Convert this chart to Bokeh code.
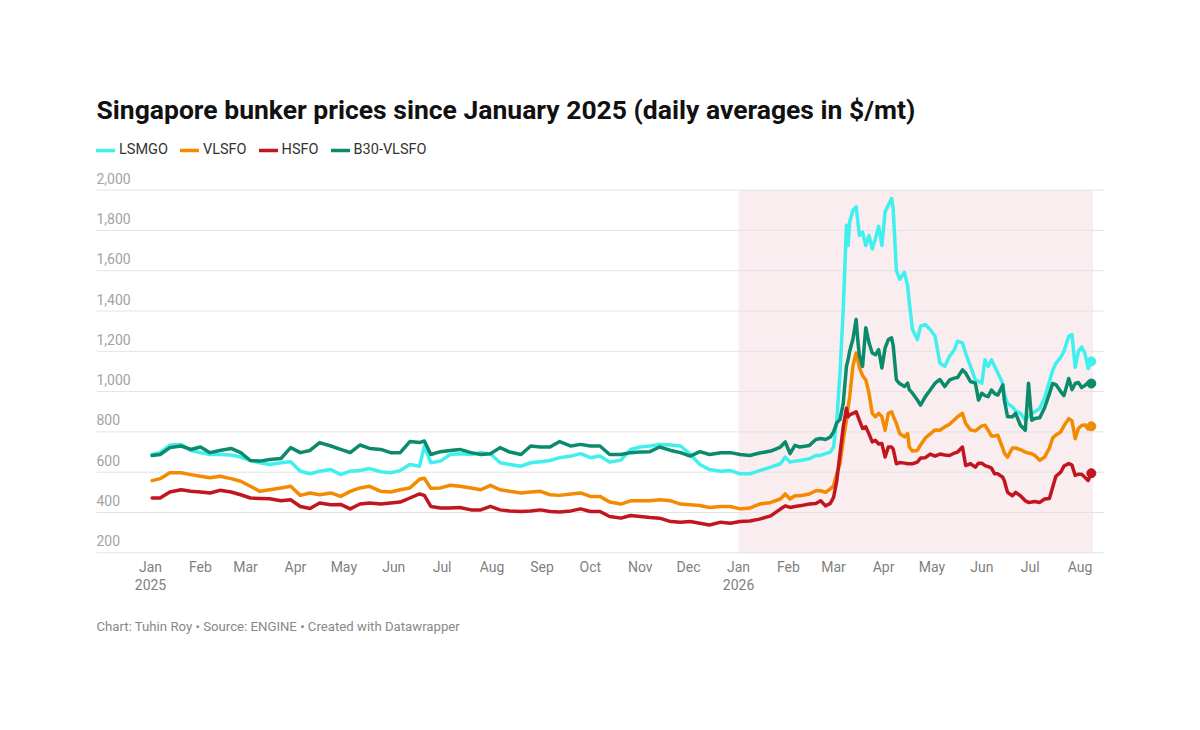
import pandas as pd
from bokeh.plotting import figure
from bokeh.models import Range1d, Label, Legend, LegendItem
from bokeh.core.properties import value
from bokeh.embed import file_html
from bokeh.resources import INLINE

# ---------------- data ----------------
dates = [
    "2025-01-02", "2025-01-07", "2025-01-13", "2025-01-20", "2025-01-26", "2025-02-01", "2025-02-07", "2025-02-13", "2025-02-20", "2025-02-26",
    "2025-03-04", "2025-03-10", "2025-03-16", "2025-03-23", "2025-03-29", "2025-04-04", "2025-04-10", "2025-04-16", "2025-04-23", "2025-04-29",
    "2025-05-05", "2025-05-11", "2025-05-17", "2025-05-24", "2025-05-30", "2025-06-05", "2025-06-11", "2025-06-17", "2025-06-20", "2025-06-24", "2025-06-30",
    "2025-07-06", "2025-07-12", "2025-07-19", "2025-07-25", "2025-07-31", "2025-08-06", "2025-08-12", "2025-08-19", "2025-08-25", "2025-08-31",
    "2025-09-06", "2025-09-12", "2025-09-19", "2025-09-25", "2025-10-01", "2025-10-07", "2025-10-13", "2025-10-20", "2025-10-26",
    "2025-11-01", "2025-11-07", "2025-11-13", "2025-11-20", "2025-11-26", "2025-12-02", "2025-12-08", "2025-12-14", "2025-12-21", "2025-12-27",
    "2026-01-02",
    "2026-01-08", "2026-01-14", "2026-01-21", "2026-01-27", "2026-01-30", "2026-02-02", "2026-02-05", "2026-02-08", "2026-02-14", "2026-02-18",
    "2026-02-21", "2026-02-24", "2026-02-27", "2026-03-01", "2026-03-03", "2026-03-05", "2026-03-07", "2026-03-09", "2026-03-10", "2026-03-11",
    "2026-03-13", "2026-03-15", "2026-03-16", "2026-03-17", "2026-03-19", "2026-03-21", "2026-03-23", "2026-03-25", "2026-03-27", "2026-03-29",
    "2026-03-31", "2026-04-02", "2026-04-04", "2026-04-06", "2026-04-07", "2026-04-09", "2026-04-11", "2026-04-14", "2026-04-16", "2026-04-17",
    "2026-04-19", "2026-04-22", "2026-04-24", "2026-04-27", "2026-04-30", "2026-05-03", "2026-05-06", "2026-05-09", "2026-05-12", "2026-05-15",
    "2026-05-17", "2026-05-20", "2026-05-22", "2026-05-25", "2026-05-28", "2026-05-30", "2026-06-01", "2026-06-03", "2026-06-05", "2026-06-07",
    "2026-06-09", "2026-06-11", "2026-06-14", "2026-06-15", "2026-06-17", "2026-06-20", "2026-06-22", "2026-06-25", "2026-06-28", "2026-06-30",
    "2026-07-02", "2026-07-04", "2026-07-07", "2026-07-10", "2026-07-13", "2026-07-15", "2026-07-17", "2026-07-20", "2026-07-22", "2026-07-25",
    "2026-07-27", "2026-07-29", "2026-07-31", "2026-08-02", "2026-08-04", "2026-08-06", "2026-08-08",
]

lsmgo = [
    688, 697, 735, 738, 708, 697, 688, 688, 685, 675,
    658, 647, 638, 647, 652, 605, 592, 605, 613, 588,
    605, 608, 618, 602, 597, 608, 638, 630, 730, 647, 655,
    688, 692, 688, 697, 692, 647, 638, 630, 647, 652,
    658, 672, 680, 692, 672, 680, 650, 660, 713,
    725, 730, 738, 735, 730, 690, 638, 613, 605, 608,
    592,
    592, 608, 625, 642, 675, 650, 655, 658, 667, 683,
    683, 692, 700, 725, 858, 1092, 1408, 1825, 1725, 1842,
    1900, 1917, 1850, 1775, 1792, 1725, 1775, 1708, 1760, 1820,
    1725, 1892, 1925, 1958, 1908, 1600, 1558, 1592, 1525, 1442,
    1308, 1258, 1325, 1333, 1308, 1275, 1142, 1125, 1175, 1208,
    1250, 1242, 1190, 1125, 1058, 1050, 1042, 1158, 1125, 1158,
    1125, 1092, 1040, 990, 940, 925, 905, 892, 858, 880,
    892, 900, 917, 970, 1050, 1105, 1140, 1170, 1200, 1275,
    1283, 1121, 1200, 1221, 1190, 1115, 1150,
]

vlsfo = [
    558, 568, 597, 597, 588, 580, 572, 580, 568, 555,
    530, 505, 513, 522, 530, 485, 497, 488, 497, 480,
    505, 522, 530, 505, 502, 513, 522, 565, 570, 520, 522,
    535, 530, 522, 513, 535, 513, 505, 497, 502, 505,
    488, 485, 492, 497, 480, 480, 452, 442, 458,
    458, 458, 463, 458, 442, 438, 435, 425, 430, 430,
    418,
    422, 442, 450, 467, 492, 467, 483, 483, 492, 508,
    508, 500, 517, 533, 592, 642, 758, 858, 920, 975,
    1125, 1192, 1158, 1120, 1080, 1058, 992, 892, 875, 892,
    875, 808, 892, 900, 880, 842, 792, 775, 792, 725,
    705, 708, 735, 770, 790, 810, 808, 825, 838, 860,
    875, 892, 842, 810, 805, 817, 830, 833, 808, 780,
    780, 783, 720, 695, 675, 720, 720, 712, 700, 695,
    692, 683, 659, 675, 720, 770, 785, 800, 830, 866,
    855, 766, 817, 832, 835, 815, 828,
]

hsfo = [
    472, 472, 502, 513, 505, 502, 497, 510, 502, 488,
    472, 470, 468, 458, 463, 430, 420, 447, 438, 440,
    418, 442, 447, 442, 447, 452, 472, 492, 485, 430, 422,
    422, 425, 413, 413, 430, 413, 408, 405, 408, 413,
    405, 402, 408, 418, 405, 405, 380, 372, 385,
    380, 375, 372, 355, 352, 355, 347, 338, 352, 347,
    355,
    358, 367, 383, 417, 433, 425, 430, 433, 442, 445,
    458, 433, 445, 475, 558, 692, 825, 917, 875, 885,
    892, 900, 880, 858, 817, 825, 790, 750, 758, 740,
    742, 675, 725, 725, 715, 642, 648, 645, 642, 642,
    642, 650, 670, 672, 690, 680, 690, 685, 683, 695,
    700, 725, 633, 642, 625, 645, 645, 633, 628, 620,
    592, 592, 575, 558, 500, 483, 500, 483, 458, 450,
    452, 455, 450, 467, 470, 525, 580, 600, 630, 643,
    635, 584, 590, 590, 575, 559, 595,
]

b30_vlsfo = [
    683, 688, 722, 730, 713, 725, 697, 708, 718, 697,
    658, 655, 663, 668, 722, 697, 708, 747, 730, 713,
    697, 735, 718, 713, 697, 697, 752, 747, 755, 688, 702,
    708, 713, 697, 688, 692, 722, 700, 688, 730, 725,
    725, 752, 730, 738, 730, 730, 688, 688, 697,
    700, 702, 725, 708, 697, 680, 702, 688, 697, 697,
    688,
    683, 695, 705, 725, 750, 692, 733, 725, 733, 762,
    767, 762, 775, 800, 845, 862, 942, 1125, 1158, 1200,
    1260, 1358, 1258, 1180, 1125, 1317, 1242, 1192, 1183, 1208,
    1117, 1217, 1258, 1267, 1230, 1058, 1040, 1025, 1042, 1010,
    992, 958, 933, 975, 1008, 1042, 1060, 1025, 1058, 1067,
    1070, 1108, 1092, 1050, 1042, 958, 992, 980, 975, 1008,
    990, 983, 1033, 958, 875, 875, 892, 833, 808, 1042,
    858, 867, 870, 920, 990, 1040, 1035, 1000, 980, 1065,
    1010, 1040, 1045, 1020, 1030, 1045, 1040,
]

series_names = ["LSMGO", "VLSFO", "HSFO", "B30-VLSFO"]
series_colors = ["#40f0ee", "#f38a00", "#c1161f", "#0b8a6c"]

y_ticks = [200, 400, 600, 800, 1000, 1200, 1400, 1600, 1800, 2000]
y_tick_labels = ["200", "400", "600", "800", "1,000", "1,200", "1,400", "1,600", "1,800", "2,000"]

x_ticks = ["2025-01-01", "2025-02-01", "2025-03-01", "2025-04-01", "2025-05-01", "2025-06-01",
           "2025-07-01", "2025-08-01", "2025-09-01", "2025-10-01", "2025-11-01", "2025-12-01",
           "2026-01-01", "2026-02-01", "2026-03-01", "2026-04-01", "2026-05-01", "2026-06-01",
           "2026-07-01", "2026-08-01"]
x_tick_labels = ["Jan", "Feb", "Mar", "Apr", "May", "Jun", "Jul", "Aug", "Sep", "Oct", "Nov", "Dec",
                 "Jan", "Feb", "Mar", "Apr", "May", "Jun", "Jul", "Aug"]
x_year_ticks = ["2025-01-01", "2026-01-01"]
x_year_labels = ["2025", "2026"]

highlight_start = "2026-01-01"
highlight_end = "2026-08-09"

title_text = "Singapore bunker prices since January 2025 (daily averages in $/mt)"
footer_text = "Chart: Tuhin Roy \u2022 Source: ENGINE \u2022 Created with Datawrapper"

# ---------------- layout (pixels of the canvas) ----------------
FONT = "Roboto"
W, H = 1192, 722
PX_PER_DAY = 1.611          # horizontal scale
PX_PER_UNIT = 362.7 / 1800  # vertical scale ($/mt)
ORIGIN_X = 150              # canvas x of 2025-01-01
Y2000_PX = 189.6            # canvas y of the 2,000 grid line
PLOT_LEFT_PX, PLOT_RIGHT_PX = 96, 1104

t0 = pd.Timestamp("2025-01-01")
day = pd.Timedelta(days=1)
x_lo = t0 - day * (ORIGIN_X / PX_PER_DAY)
x_hi = t0 + day * ((W - ORIGIN_X) / PX_PER_DAY)
y_hi = 2000 + Y2000_PX / PX_PER_UNIT
y_lo = 2000 - (H - Y2000_PX) / PX_PER_UNIT
grid_left = t0 + day * ((PLOT_LEFT_PX - ORIGIN_X) / PX_PER_DAY)
grid_right = t0 + day * ((PLOT_RIGHT_PX - ORIGIN_X) / PX_PER_DAY)

x = pd.to_datetime(dates)

p = figure(width=W, height=H, x_axis_type="datetime",
           x_axis_location=None, y_axis_location=None,
           output_backend="svg", toolbar_location=None,
           x_range=Range1d(x_lo, x_hi), y_range=Range1d(y_lo, y_hi),
           min_border=0)
p.outline_line_color = None
p.background_fill_color = "white"
p.border_fill_color = "white"
p.xgrid.visible = False
p.ygrid.visible = False

# highlighted period
p.quad(left=[pd.Timestamp(highlight_start)], right=[pd.Timestamp(highlight_end)],
       bottom=[y_ticks[0]], top=[y_ticks[-1]],
       fill_color="#f9edf0", line_color=None)

# horizontal grid lines
p.segment(x0=[grid_left] * len(y_ticks), x1=[grid_right] * len(y_ticks),
          y0=y_ticks, y1=y_ticks, line_color="#e3e3e3", line_width=1)

# y tick labels above grid lines
p.text(x=[grid_left] * len(y_ticks), y=y_ticks, text=y_tick_labels,
       text_font=value(FONT), text_font_size="14px", text_color="#a3a3a3",
       text_align="left", text_baseline="alphabetic", y_offset=-12)

# x tick labels
p.text(x=pd.to_datetime(x_ticks), y=[y_ticks[0]] * len(x_ticks), text=x_tick_labels,
       text_font=value(FONT), text_font_size="14px", text_color="#7f7f7f",
       text_align="center", text_baseline="alphabetic", y_offset=14)
p.text(x=pd.to_datetime(x_year_ticks), y=[y_ticks[0]] * len(x_year_ticks), text=x_year_labels,
       text_font=value(FONT), text_font_size="14px", text_color="#7f7f7f",
       text_align="center", text_baseline="alphabetic", y_offset=32)

# lines
items = []
for name, col, vals in zip(series_names, series_colors, [lsmgo, vlsfo, hsfo, b30_vlsfo]):
    r = p.line(x, vals, line_color=col, line_width=3.5, line_join="round", line_cap="round")
    p.scatter([x[-1]], [vals[-1]], size=9, fill_color=col, line_color=col)
    items.append(LegendItem(label=name, renderers=[r]))

legend = Legend(items=items, orientation="horizontal", location=(96, 564),
                glyph_width=19, glyph_height=14, label_standoff=4, spacing=12,
                padding=0, margin=0, border_line_color=None, background_fill_alpha=0,
                label_text_font=FONT, label_text_font_size="14.5px", label_text_color="#333333",
                label_height=14)
p.add_layout(legend)

p.add_layout(Label(x=96, y=H - 109, x_units="screen", y_units="screen", text=title_text,
                   text_font=FONT, text_font_size="26.5px", text_font_style="bold",
                   text_color="#111111", text_baseline="middle"))
p.add_layout(Label(x=96, y=H - 626, x_units="screen", y_units="screen", text=footer_text,
                   text_font=FONT, text_font_size="13.2px", text_color="#888888",
                   text_baseline="middle"))

open("out.html", "w").write(file_html(p, INLINE))
